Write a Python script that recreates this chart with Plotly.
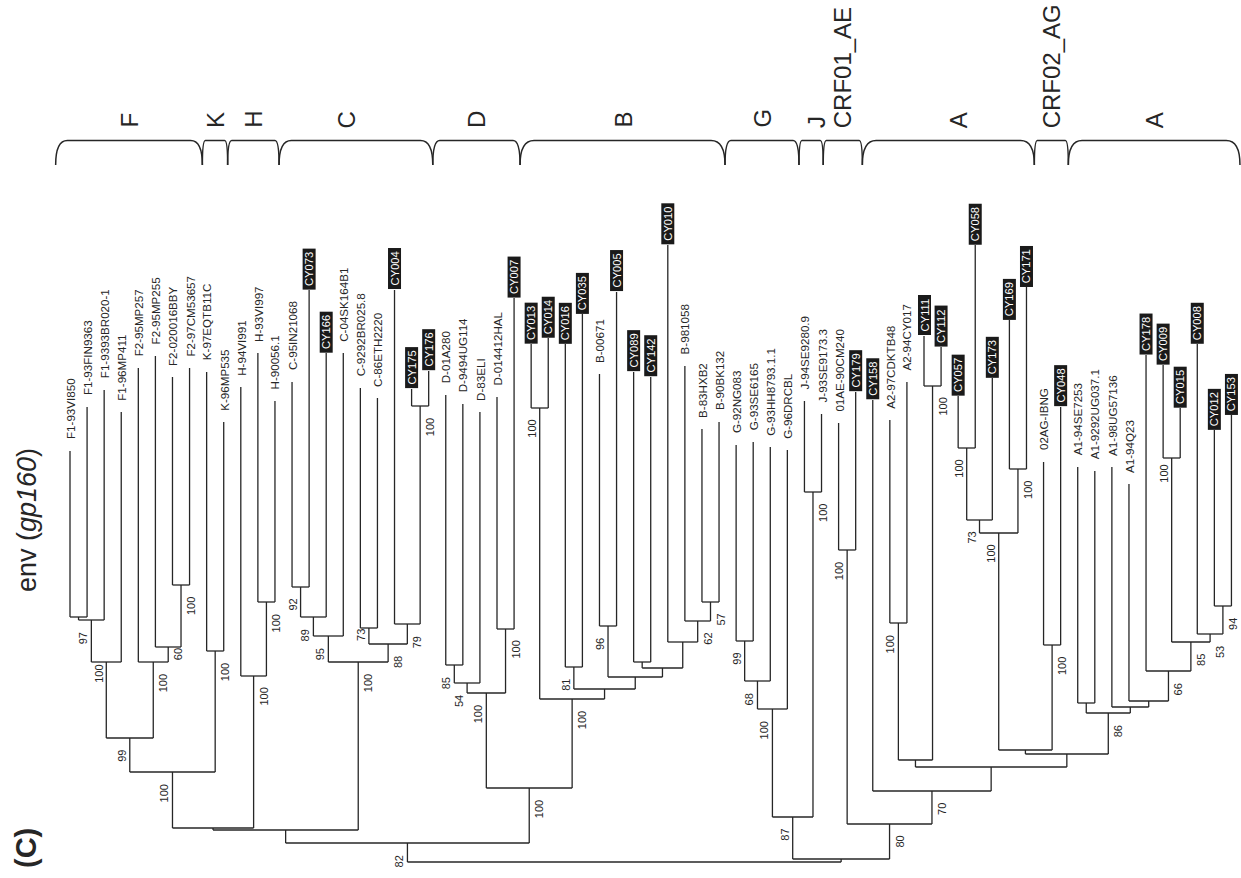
import plotly.graph_objects as go

# ---------------- DATA ----------------
leaf_names = [
    "F1-93VI850", "F1-93FIN9363", "F1-9393BR020-1", "F1-96MP411", "F2-95MP257",
    "F2-95MP255", "F2-020016BBY", "F2-97CM53657", "K-97EQTB11C", "K-96MP535",
    "H-94VI991", "H-93VI997", "H-90056.1", "C-95IN21068", "CY073",
    "CY166", "C-04SK164B1", "C-9292BR025.8", "C-86ETH2220", "CY004",
    "CY175", "CY176", "D-01A280", "D-9494UG114", "D-83ELI",
    "D-014412HAL", "CY007", "CY013", "CY014", "CY016",
    "CY035", "B-00671", "CY005", "CY089", "CY142",
    "CY010", "B-981058", "B-83HXB2", "B-90BK132", "G-92NG083",
    "G-93SE6165", "G-93HH8793.1.1", "G-96DRCBL", "J-94SE9280.9", "J-93SE9173.3",
    "01AE-90CM240", "CY179", "CY158", "A2-97CDKTB48", "A2-94CY017",
    "CY111", "CY112", "CY057", "CY058", "CY173",
    "CY169", "CY171", "02AG-IBNG", "CY048", "A1-94SE7253",
    "A1-9292UG037.1", "A1-98UG57136", "A1-94Q23", "CY178", "CY009",
    "CY015", "CY008", "CY012", "CY153",
]

# distance of each tip from the root (arbitrary branch-length units)
leaf_depth = [
    411, 455, 472, 450, 494, 506, 485, 494, 490, 440,
    475, 509, 461, 480, 572, 509, 509, 474, 464, 572,
    473, 491, 467, 458, 450, 465, 564, 518, 524, 518,
    548, 488, 570, 490, 485, 617, 496, 433, 440, 417,
    420, 415, 412, 461, 448, 439, 470, 462, 442, 480,
    526, 515, 466, 617, 484, 542, 575, 400, 455, 395,
    391, 395, 378, 507, 497, 454, 518, 432, 447,
]

# internal nodes: id, left child, right child, depth, bootstrap support
node_ids = [
    "N1", "N2", "N3", "N4", "N5", "N6", "N7", "N8", "N9", "N10", "N11", "N12",
    "N20", "N21", "N22", "N23", "N24", "N25", "N26", "N27", "N13",
    "N30", "N31", "N32", "N33",
    "N40", "N42", "B6", "B4", "B1", "B2", "B3", "B5", "B7", "B8", "B9", "N34", "N14",
    "G1", "G2", "G3", "J", "GJ", "CRF01", "A2", "X", "R4",
    "S1a", "S1", "S2", "AC1", "CRF02", "R6", "A1a",
    "R14", "R13", "R12", "R11", "R10", "R9", "R8", "R7", "R5", "R3", "R2", "R1",
    "N15", "Root",
]
node_left = [
    "F1-93VI850", "N1", "N2", "F2-020016BBY", "F2-95MP255", "F2-95MP257", "N3",
    "K-97EQTB11C", "N7", "H-93VI997", "H-94VI991", "N9",
    "C-95IN21068", "N20", "N21", "C-9292BR025.8", "CY175", "CY004", "N23", "N22", "N12",
    "D-01A280", "N30", "D-014412HAL", "N31",
    "CY013", "CY016", "B-00671", "CY089", "B-83HXB2", "B-981058", "CY010", "B4", "B6",
    "N42", "N40", "N33", "N13",
    "G-92NG083", "G1", "G2", "J-94SE9280.9", "G3", "01AE-90CM240", "A2-97CDKTB48",
    "CY111", "A2",
    "CY057", "S1a", "CY169", "S1", "02AG-IBNG", "AC1", "A1-94SE7253",
    "CY012", "CY008", "CY009", "R12", "CY178", "A1-94Q23", "A1-98UG57136", "A1a",
    "R6", "R4", "CY158", "CRF01",
    "GJ", "N14",
]
node_right = [
    "F1-93FIN9363", "F1-9393BR020-1", "F1-96MP411", "F2-97CM53657", "N4", "N5", "N6",
    "K-96MP535", "N8", "H-90056.1", "N10", "N11",
    "CY073", "CY166", "C-04SK164B1", "C-86ETH2220", "CY176", "N24", "N25", "N26", "N27",
    "D-9494UG114", "D-83ELI", "CY007", "N32",
    "CY014", "CY035", "CY005", "CY142", "B-90BK132", "B1", "B2", "B3", "B5",
    "B7", "B8", "B9", "N34",
    "G-93SE6165", "G-93HH8793.1.1", "G-96DRCBL", "J-93SE9173.3", "J", "CY179",
    "A2-94CY017", "CY112", "X",
    "CY058", "CY173", "CY171", "S2", "CY048", "CRF02", "A1-9292UG037.1",
    "CY153", "R14", "CY015", "R13", "R11", "R10", "R9", "R8",
    "R7", "R5", "R3", "R2",
    "R1", "N15",
]
node_depth = [
    245, 242, 200, 277, 215, 200, 124, 211, 90, 260, 186, 34,
    275, 245, 226, 234, 456, 238, 218, 200, 32,
    197, 179, 233, 169,
    454, 195, 236, 200, 260, 241, 220, 194, 185, 173, 163, 74, 19,
    221, 181, 153, 370, 45, 312, 239, 476, 102,
    414, 342, 393, 329, 217, 112, 159,
    256, 228, 404, 220, 191, 161, 155, 149, 108, 95, 71, 38,
    3, 0,
]
node_support = [
    None, 97, 100, 100, 60, 100, 99, 100, 100, 100, 100, None,
    92, 89, 95, 73, 100, 79, 88, 100, None,
    85, 54, 100, 100,
    100, 81, 96, None, 57, 62, None, None, None, None, 100, 100, 82,
    99, 68, 100, 100, 87, 100, 100, 100, None,
    100, 73, 100, 100, 100, None, None,
    94, 53, 100, 85, 66, None, None, 86, None, None, 70, 80,
    None, None,
]

clade_names = ["F", "K", "H", "C", "D", "B", "G", "J", "CRF01_AE", "A", "CRF02_AG", "A"]
# clade boundaries, in leaf-index units
clade_edges = [-0.84, 7.75, 9.23, 12.24, 21.24, 26.35, 38.35, 42.68, 44.10, 46.39,
               56.46, 58.45, 68.5]

# ---------------- LAYOUT / STYLE ----------------
W, H = 1241, 878
X0, DX = 70.0, 17.08           # leaf spacing (pixels)
FONT = "Liberation Sans, Arial, Helvetica, sans-serif"
INK = "#262626"

support_side = {
    "N2": "L", "N3": "L", "N4": "R", "N5": "R", "N6": "R", "N7": "L", "N8": "R",
    "N9": "L", "N10": "R", "N11": "R", "N20": "L", "N21": "L", "N22": "L",
    "N23": "L", "N24": "R", "N25": "R", "N26": "R", "N27": "R", "N30": "L",
    "N31": "L", "N32": "R", "N33": "L", "N40": "L", "N42": "L", "B6": "L",
    "B1": "R", "B2": "R", "B9": "R", "N34": "R", "N14": "L", "G1": "L",
    "G2": "L", "G3": "L", "J": "R", "GJ": "L", "CRF01": "L", "A2": "L",
    "X": "R", "S1a": "L", "S1": "L", "S2": "R", "AC1": "L", "CRF02": "R",
    "R14": "R", "R13": "R", "R12": "L", "R11": "R", "R10": "R", "R7": "R",
    "R2": "R", "R1": "R",
}
support_gap = {"N5": -1, "N23": -1, "N3": 0.5, "R12": 5}
side_dx = {"L": -8, "R": 10}
clade_label_shift = {3: -9, 7: 5, 9: 10}

pos = {}
for i, name in enumerate(leaf_names):
    pos[name] = (X0 + DX * i, leaf_depth[i])
for nid, l, r, d in zip(node_ids, node_left, node_right, node_depth):
    pos[nid] = ((pos[l][0] + pos[r][0]) / 2.0, d)

xs, ys = [], []
for nid, l, r, d in zip(node_ids, node_left, node_right, node_depth):
    xl, xr = pos[l][0], pos[r][0]
    xs += [xl, xr, None]
    ys += [d, d, None]
    for c in (l, r):
        xs += [pos[c][0], pos[c][0], None]
        ys += [d, pos[c][1], None]

fig = go.Figure()
fig.add_trace(go.Scatter(x=xs, y=ys, mode="lines",
                         line=dict(color=INK, width=1.3),
                         hoverinfo="skip", showlegend=False))

ann = []
# leaf labels
for i, name in enumerate(leaf_names):
    x, d = pos[name]
    if name.startswith("CY"):
        ann.append(dict(x=x, y=d, text="\u00a0" + name + "\u00a0", textangle=-90,
                        xanchor="center", yanchor="bottom", showarrow=False,
                        bgcolor="#1a1a1a", borderpad=0,
                        font=dict(family=FONT, size=11.2, color="white")))
    else:
        ann.append(dict(x=x, y=d + 9.5, text=name, textangle=-90,
                        xanchor="center", yanchor="bottom", showarrow=False,
                        font=dict(family=FONT, size=11.6, color=INK)))

# bootstrap values
for nid, s in zip(node_ids, node_support):
    if s is None:
        continue
    x, d = pos[nid]
    side = support_side.get(nid, "R")
    gap = support_gap.get(nid, 10)
    ann.append(dict(x=x + side_dx[side], y=d - gap, text=str(s), textangle=-90,
                    xanchor="center", yanchor="top", showarrow=False,
                    font=dict(family=FONT, size=11, color=INK)))

# clade brackets + names
BR_BOTTOM, BR_TOP, LBL_Y = 697, 721.5, 732
shapes = []
for k, cname in enumerate(clade_names):
    x0 = X0 + DX * clade_edges[k]
    x1 = X0 + DX * clade_edges[k + 1]
    rx = max(3.0, min(14.0, (x1 - x0) * 0.08))
    path = (f"M {x0:.2f},{BR_BOTTOM} Q {x0:.2f},{BR_TOP} {x0 + rx:.2f},{BR_TOP} "
            f"L {x1 - rx:.2f},{BR_TOP} Q {x1:.2f},{BR_TOP} {x1:.2f},{BR_BOTTOM}")
    shapes.append(dict(type="path", path=path, xref="x", yref="y",
                       line=dict(color=INK, width=1.5)))
    xc = (x0 + x1) / 2.0 + clade_label_shift.get(k, 0)
    ann.append(dict(x=xc, y=LBL_Y, text=cname, textangle=-90,
                    xanchor="center", yanchor="bottom", showarrow=False,
                    font=dict(family=FONT, size=24, color=INK)))

# panel title
ann.append(dict(x=27, y=268, text="env (<i>gp160</i>)", textangle=-90,
                xanchor="center", yanchor="bottom", showarrow=False,
                font=dict(family=FONT, size=27, color=INK)))
ann.append(dict(x=26, y=-8, text="(C)", textangle=-90,
                xanchor="center", yanchor="bottom", showarrow=False,
                font=dict(family=FONT, size=29, color=INK, weight="bold")))

fig.update_layout(
    width=W, height=H,
    margin=dict(l=0, r=0, t=0, b=0),
    paper_bgcolor="white", plot_bgcolor="white",
    xaxis=dict(range=[0, W], visible=False, fixedrange=True),
    yaxis=dict(range=[-16, 862], visible=False, fixedrange=True),
    annotations=ann, shapes=shapes,
)

fig.write_html(
    "out.html",
    config={"displayModeBar": False},
    post_script="document.body.style.margin='0';document.body.style.overflow='hidden';",
)
